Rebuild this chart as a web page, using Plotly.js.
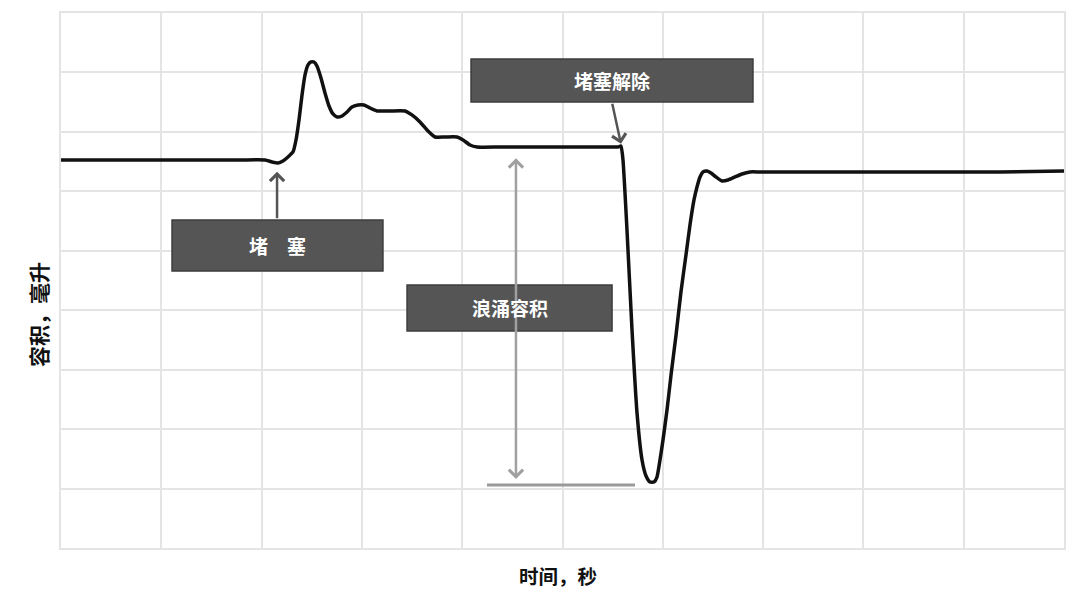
<!DOCTYPE html>
<html>
<head>
<meta charset="utf-8">
<script src="https://cdn.plot.ly/plotly-3.0.1.min.js"></script>
<style>html,body{margin:0;padding:0;background:#fff;}#chart{width:1080px;height:609px;}</style>
</head>
<body>
<div id="chart"></div>
<script>
// time (arbitrary units, 10 grid divisions)
var time = [0,0.389,0.887,1.386,1.785,2.034,2.104,2.164,2.213,2.263,2.313,2.343,2.373,2.403,2.433,2.463,2.493,2.522,2.552,2.592,2.632,2.672,2.712,2.752,2.802,2.852,2.901,2.961,3.021,3.081,3.151,3.280,3.430,3.499,3.579,3.659,3.729,3.829,3.948,4.008,4.078,4.148,4.377,4.875,5.374,5.553,5.583,5.603,5.643,5.693,5.743,5.793,5.833,5.872,5.912,5.942,5.972,6.002,6.042,6.082,6.132,6.181,6.231,6.271,6.311,6.341,6.371,6.401,6.441,6.481,6.530,6.590,6.650,6.720,6.790,6.869,6.969,7.368,8.365,9.362,10.0];
// volume (arbitrary units, 9 grid divisions)
var volume = [6.528,6.528,6.528,6.528,6.528,6.528,6.494,6.477,6.511,6.578,6.662,6.864,7.201,7.621,7.958,8.126,8.176,8.176,8.109,7.907,7.655,7.436,7.302,7.251,7.268,7.335,7.419,7.453,7.453,7.402,7.352,7.352,7.352,7.285,7.167,7.015,6.914,6.914,6.914,6.864,6.780,6.746,6.746,6.746,6.746,6.746,6.763,6.528,5.350,3.668,2.271,1.480,1.211,1.110,1.110,1.194,1.480,1.817,2.322,2.911,3.583,4.307,4.929,5.434,5.855,6.073,6.242,6.326,6.343,6.309,6.242,6.174,6.191,6.242,6.292,6.326,6.326,6.326,6.326,6.326,6.343];

var labels = {block: "堵　塞", release: "堵塞解除", surge: "浪涌容积"};
var xTitle = "时间，秒";
var yTitle = "容积，毫升";

var boxFill = "#555555", boxLine = "#3c3c3c";
var font = "'Noto Sans CJK SC', 'Noto Sans', sans-serif";

var trace = {
  x: time, y: volume, type: "scatter", mode: "lines",
  line: {color: "#111111", width: 3.5, shape: "spline", smoothing: 0.5},
  hoverinfo: "skip"
};

function box(x0, x1, y0, y1) {
  return {type: "rect", xref: "x", yref: "y", x0: x0, x1: x1, y0: y0, y1: y1,
    fillcolor: boxFill, line: {color: boxLine, width: 1.5}, layer: "above"};
}

var layout = {
  width: 1080, height: 609,
  margin: {l: 61, r: 16, t: 13, b: 61},
  paper_bgcolor: "#ffffff", plot_bgcolor: "#ffffff",
  showlegend: false,
  xaxis: {range: [0, 10], dtick: 1, showticklabels: false, ticks: "",
    showgrid: true, gridcolor: "#e4e4e4", gridwidth: 2, zeroline: false,
    showline: true, mirror: true, linecolor: "#e4e4e4", linewidth: 2, fixedrange: true},
  yaxis: {range: [0, 9], dtick: 1, showticklabels: false, ticks: "",
    showgrid: true, gridcolor: "#e4e4e4", gridwidth: 2, zeroline: false,
    showline: true, mirror: true, linecolor: "#e4e4e4", linewidth: 2, fixedrange: true},
  shapes: [
    {type: "line", xref: "x", yref: "y", x0: 4.247, x1: 5.723, y0: 1.06, y1: 1.06,
      line: {color: "#9a9a9a", width: 3}, layer: "above"},
    box(1.107, 3.210, 4.660, 5.518),
    box(4.088, 6.899, 7.503, 8.227),
    box(3.450, 5.494, 3.651, 4.425)
  ],
  annotations: [
    // arrows
    {x: 2.154, y: 6.33, ax: 2.154, ay: 5.52, xref: "x", yref: "y", axref: "x", ayref: "y",
      text: "", showarrow: true, arrowhead: 4, arrowsize: 1.1, arrowwidth: 2.5, arrowcolor: "#555555"},
    {x: 5.583, y: 6.80, ax: 5.493, ay: 7.50, xref: "x", yref: "y", axref: "x", ayref: "y",
      text: "", showarrow: true, arrowhead: 4, arrowsize: 1.1, arrowwidth: 2.5, arrowcolor: "#555555"},
    {x: 4.536, y: 1.16, ax: 4.536, ay: 6.58, xref: "x", yref: "y", axref: "x", ayref: "y",
      text: "", showarrow: true, arrowhead: 4, startarrowhead: 4, arrowside: "end+start",
      arrowsize: 1.1, startarrowsize: 1.1, arrowwidth: 2.5, arrowcolor: "#a0a0a0"},
    // box labels
    {x: 2.158, y: 5.089, xref: "x", yref: "y", text: labels.block, showarrow: false,
      font: {family: font, size: 19, color: "#ffffff", weight: "bold"}},
    {x: 5.49, y: 7.865, xref: "x", yref: "y", text: labels.release, showarrow: false,
      font: {family: font, size: 19, color: "#ffffff", weight: "bold"}},
    {x: 4.472, y: 4.038, xref: "x", yref: "y", text: labels.surge, showarrow: false,
      font: {family: font, size: 19, color: "#ffffff", weight: "bold"}},
    // axis titles
    {x: 0.4955, y: -0.0523, xref: "paper", yref: "paper", text: xTitle, showarrow: false,
      xanchor: "center", yanchor: "middle",
      font: {family: font, size: 19.5, color: "#111111", weight: "bold"}},
    {x: -0.0229, y: 0.4355, xref: "paper", yref: "paper", text: yTitle, showarrow: false,
      textangle: -90, xanchor: "center", yanchor: "middle",
      font: {family: font, size: 21, color: "#111111", weight: "bold"}}
  ]
};

Plotly.newPlot("chart", [trace], layout, {staticPlot: true, displayModeBar: false});
</script>
</body>
</html>
